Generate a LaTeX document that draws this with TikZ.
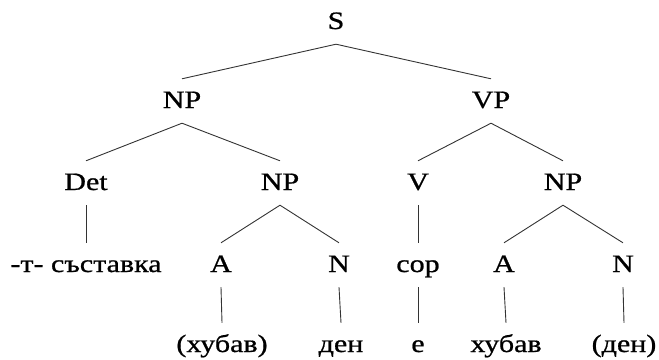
\documentclass[tikz,border=0pt]{standalone}
\usepackage{fontspec}
\setmainfont[FakeStretch=1.2,FakeBold=0.8]{Liberation Serif}
\begin{document}
\begin{tikzpicture}[x=1pt,y=-1pt,
  lbl/.style={anchor=base, font=\fontsize{25}{28}\selectfont, text height=20pt, text depth=6pt, inner ysep=9pt, inner xsep=0pt},
  edge/.style={line width=0.9pt, draw=black!80}]
\useasboundingbox (0,0) rectangle (659,359);
\node[lbl] (S) at (336,29) {S};
\node[lbl] (NPa) at (182,108) {NP};
\node[lbl] (VP) at (491,108) {VP};
\node[lbl] (Det) at (86,190) {Det};
\node[lbl] (NPb) at (280,190) {NP};
\node[lbl] (V) at (418,190) {V};
\node[lbl] (NPc) at (563,190) {NP};
\node[lbl] (T) at (86,272) {-т- съставка};
\node[lbl] (Aa) at (221,272) {A};
\node[lbl] (Na) at (339,272) {N};
\node[lbl] (cop) at (418,272) {cop};
\node[lbl] (Ab) at (504,272) {A};
\node[lbl] (Nb) at (623,272) {N};
\node[lbl] (wa) at (222,352) {(хубав)};
\node[lbl] (wb) at (341,352) {ден};
\node[lbl] (wc) at (418,352) {е};
\node[lbl] (wd) at (506,352) {хубав};
\node[lbl] (we) at (624,352) {(ден)};
\draw[edge] (S.south) -- (NPa.north);
\draw[edge] (S.south) -- (VP.north);
\draw[edge] (NPa.south) -- (Det.north);
\draw[edge] (NPa.south) -- (NPb.north);
\draw[edge] (VP.south) -- (V.north);
\draw[edge] (VP.south) -- (NPc.north);
\draw[edge] (Det.south) -- (T.north);
\draw[edge] (NPb.south) -- (Aa.north);
\draw[edge] (NPb.south) -- (Na.north);
\draw[edge] (V.south) -- (cop.north);
\draw[edge] (NPc.south) -- (Ab.north);
\draw[edge] (NPc.south) -- (Nb.north);
\draw[edge] (Aa.south) -- (wa.north);
\draw[edge] (Na.south) -- (wb.north);
\draw[edge] (cop.south) -- (wc.north);
\draw[edge] (Ab.south) -- (wd.north);
\draw[edge] (Nb.south) -- (we.north);
\end{tikzpicture}
\end{document}
